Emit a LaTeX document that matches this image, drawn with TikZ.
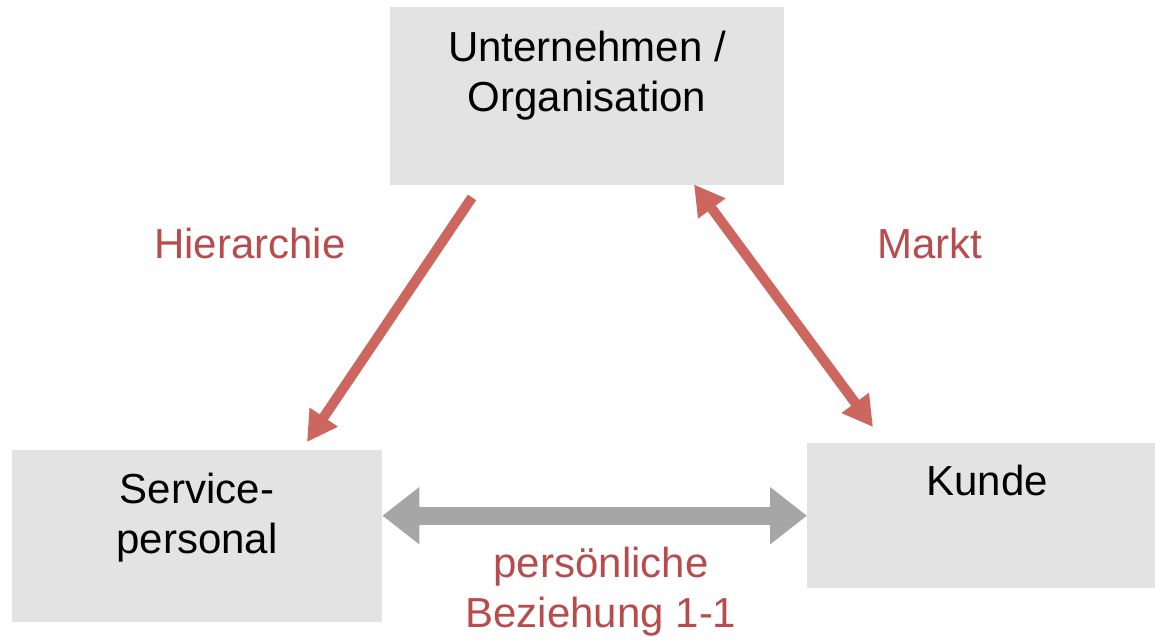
\documentclass[tikz,border=0pt]{standalone}
\usepackage{fontspec}
\setmainfont{Liberation Sans}
\usetikzlibrary{arrows.meta,calc}
\definecolor{boxgray}{HTML}{E3E3E3}
\definecolor{arrred}{HTML}{CD665E}
\definecolor{txtred}{HTML}{B84C4C}
\definecolor{arrgray}{HTML}{A6A6A6}
\begin{document}
\begin{tikzpicture}[x=1pt,y=-1pt,
  box/.style={fill=boxgray,draw=none,inner sep=0pt,anchor=north west},
  lbl/.style={font=\fontsize{42}{50}\selectfont,align=center,inner sep=0pt,anchor=base},
  redlbl/.style={lbl,text=txtred},
  redarrow/.style={draw=arrred,fill=arrred,line width=10pt},
  grayarrow/.style={draw=arrgray,fill=arrgray,line width=18pt,
     {Triangle[length=37pt,width=55pt]}-{Triangle[length=37pt,width=55pt]}}]
\useasboundingbox (0,0) rectangle (1155,639);
% boxes
\node[box,minimum width=394pt,minimum height=178pt] (org) at (390,7) {};
\node[box,minimum width=370pt,minimum height=172pt] (sp) at (12,450) {};
\node[box,minimum width=348pt,minimum height=145pt] (kunde) at (807,443) {};
% box texts (base anchor = baseline of last line)
\node[lbl] (orgtxt) at (587,112) {Unternehmen /\\Organisation};
\node[lbl] (sptxt) at (197,553) {Service-\\personal};
\node[lbl] (kundetxt) at (987,495) {Kunde};
% connector labels
\node[redlbl] (hier) at (250,258) {Hierarchie};
\node[redlbl] (markt) at (930,258) {Markt};
\node[redlbl] (pers) at (601,627) {persönliche\\Beziehung 1-1};
% connector ends
\coordinate (h1) at ($(org.south west)+(82,12)$);
\coordinate (h2) at ($(sp.north west)+(295,-8)$);
\coordinate (m1) at ($(org.south west)+(304,-1)$);
\coordinate (m2) at ($(kunde.north west)+(66,-16)$);
% connectors
\draw[redarrow,-{Triangle[length=30pt,width=32pt]}] (h1) -- (h2);
\draw[redarrow,{Triangle[length=30pt,width=32pt]}-{Triangle[length=30pt,width=32pt]}] (m1) -- (m2);
\draw[grayarrow] (sp.east |- kunde.west) -- (kunde.west);
\end{tikzpicture}
\end{document}
